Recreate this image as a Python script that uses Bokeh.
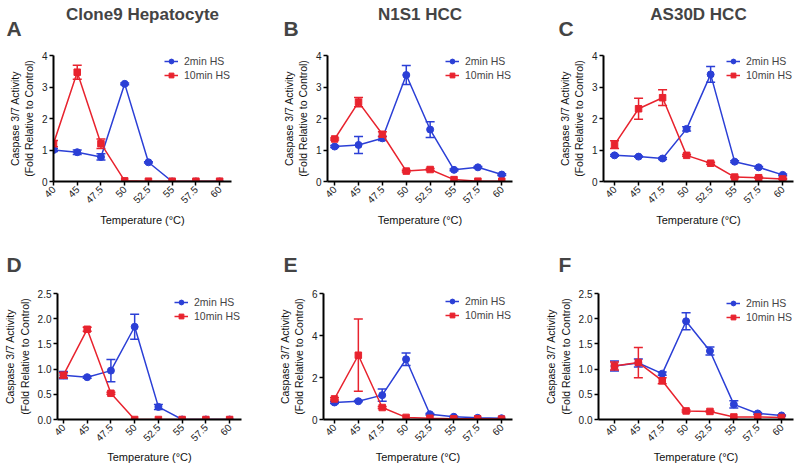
from bokeh.plotting import figure
from bokeh.layouts import column, row
from bokeh.models import (ColumnDataSource, FixedTicker, Whisker, TeeHead, Legend,
                          LegendItem, Title, Range1d)
from bokeh.embed import file_html
from bokeh.resources import INLINE

FONT = "Liberation Sans"
BLUE = "#2b3fd6"
RED = "#e8232e"

temps = ["40", "45", "47.5", "50", "52.5", "55", "57.5", "60"]
series_names = ["2min HS", "10min HS"]
y_title = "Caspase 3/7 Activity\n(Fold Relative to Control)"
x_title = "Temperature (\u00b0C)"

# Panel A: Clone9 Hepatocyte
a_2min = [1.00, 0.93, 0.78, 3.10, 0.61, 0.0, 0.0, 0.0]
a_2min_err = [0.05, 0.07, 0.10, 0.03, 0.02, 0.0, 0.0, 0.0]
a_10min = [1.20, 3.47, 1.20, 0.02, 0.01, 0.01, 0.01, 0.01]
a_10min_err = [0.10, 0.22, 0.15, 0.0, 0.0, 0.0, 0.0, 0.0]

# Panel B: N1S1 HCC
b_2min = [1.11, 1.16, 1.37, 3.38, 1.65, 0.37, 0.45, 0.22]
b_2min_err = [0.03, 0.27, 0.07, 0.30, 0.25, 0.03, 0.03, 0.03]
b_10min = [1.35, 2.52, 1.50, 0.33, 0.38, 0.06, 0.01, 0.01]
b_10min_err = [0.03, 0.15, 0.08, 0.03, 0.03, 0.0, 0.0, 0.0]

# Panel C: AS30D HCC
c_2min = [0.83, 0.79, 0.73, 1.67, 3.40, 0.63, 0.45, 0.21]
c_2min_err = [0.03, 0.02, 0.03, 0.07, 0.25, 0.03, 0.03, 0.03]
c_10min = [1.17, 2.31, 2.66, 0.83, 0.58, 0.14, 0.12, 0.08]
c_10min_err = [0.12, 0.33, 0.25, 0.03, 0.03, 0.02, 0.02, 0.02]

# Panel D: Clone9 Hepatocyte (row 2)
d_2min = [0.88, 0.84, 0.97, 1.84, 0.25, 0.0, 0.0, 0.0]
d_2min_err = [0.07, 0.02, 0.22, 0.25, 0.05, 0.0, 0.0, 0.0]
d_10min = [0.88, 1.79, 0.52, 0.0, 0.0, 0.0, 0.0, 0.0]
d_10min_err = [0.05, 0.04, 0.02, 0.0, 0.0, 0.0, 0.0, 0.0]

# Panel E: N1S1 HCC (row 2)
e_2min = [0.81, 0.87, 1.16, 2.87, 0.25, 0.13, 0.08, 0.06]
e_2min_err = [0.05, 0.03, 0.29, 0.30, 0.03, 0.02, 0.0, 0.0]
e_10min = [0.98, 3.06, 0.57, 0.10, 0.06, 0.03, 0.03, 0.02]
e_10min_err = [0.05, 1.72, 0.05, 0.0, 0.0, 0.0, 0.0, 0.0]

# Panel F: AS30D HCC (row 2)
f_2min = [1.06, 1.12, 0.91, 1.95, 1.36, 0.30, 0.12, 0.08]
f_2min_err = [0.10, 0.08, 0.03, 0.17, 0.08, 0.07, 0.02, 0.01]
f_10min = [1.06, 1.13, 0.77, 0.17, 0.16, 0.05, 0.05, 0.04]
f_10min_err = [0.08, 0.30, 0.06, 0.02, 0.01, 0.0, 0.0, 0.0]

ticks_4 = [0, 1, 2, 3, 4]
labels_4 = ["0", "1", "2", "3", "4"]
ticks_25 = [0, 0.5, 1.0, 1.5, 2.0, 2.5]
labels_25 = ["0.0", "0.5", "1.0", "1.5", "2.0", "2.5"]
ticks_6 = [0, 2, 4, 6]
labels_6 = ["0", "2", "4", "6"]


def panel(title, letter, blue, blue_err, red, red_err, yticks, ylabels,
          x0, x1, w, h, bl, br, bt, bb, letter_dx, spacer, letter_standoff,
          leg_x, leg_y, x_standoff):
    p = figure(width=w, height=h, output_backend="svg", toolbar_location=None,
               x_range=Range1d(x0, x1), y_range=Range1d(0, yticks[-1]),
               min_border_left=bl, min_border_right=br,
               min_border_top=bt, min_border_bottom=bb)
    p.outline_line_color = None
    p.grid.visible = False
    p.background_fill_color = "white"
    p.border_fill_color = "white"

    xs = list(range(len(temps)))
    renderers = []
    for vals, errs, color, marker, size in [(blue, blue_err, BLUE, "circle", 7),
                                            (red, red_err, RED, "square", 6.5)]:
        src = ColumnDataSource(dict(x=xs, y=vals))
        ex = [x for x, e in zip(xs, errs) if e > 0]
        lo = [v - e for v, e in zip(vals, errs) if e > 0]
        hi = [v + e for v, e in zip(vals, errs) if e > 0]
        wsrc = ColumnDataSource(dict(x=ex, lo=lo, hi=hi))
        wk = Whisker(source=wsrc, base="x", lower="lo", upper="hi",
                     line_color=color, line_width=1.5,
                     upper_head=TeeHead(size=9, line_color=color, line_width=1.5),
                     lower_head=TeeHead(size=9, line_color=color, line_width=1.5))
        p.add_layout(wk)
        ln = p.line("x", "y", source=src, line_color=color, line_width=1.5)
        sc = p.scatter("x", "y", source=src, marker=marker, size=size,
                       fill_color=color, line_color=color)
        renderers.append([ln, sc])

    legend = Legend(items=[LegendItem(label=series_names[0], renderers=renderers[0]),
                           LegendItem(label=series_names[1], renderers=renderers[1])],
                    location=(leg_x, leg_y), border_line_alpha=0,
                    background_fill_alpha=0, padding=0, margin=0, spacing=2,
                    glyph_width=14, glyph_height=12, label_standoff=6,
                    label_text_font_size="10.5px", label_text_font=FONT,
                    label_height=12)
    p.add_layout(legend)

    # axes
    p.xaxis.ticker = FixedTicker(ticks=xs)
    p.xaxis.major_label_overrides = {i: t for i, t in enumerate(temps)}
    p.xaxis.major_label_orientation = 0.785398
    p.yaxis.ticker = FixedTicker(ticks=yticks)
    p.yaxis.major_label_overrides = {t: l for t, l in zip(yticks, ylabels)}
    for ax in (p.xaxis[0], p.yaxis[0]):
        ax.axis_line_width = 2
        ax.axis_line_color = "black"
        ax.major_tick_line_width = 1.5
        ax.major_tick_line_color = "black"
        ax.major_tick_out = 4
        ax.major_tick_in = 0
        ax.minor_tick_line_color = None
        ax.major_label_text_font = FONT
        ax.major_label_text_font_size = "10px"
        ax.major_label_text_color = "#222222"
        ax.axis_label_text_font = FONT
        ax.axis_label_text_font_style = "normal"
        ax.axis_label_text_font_size = "10.5px"
        ax.axis_label_text_color = "#111111"
        ax.major_label_standoff = 2
    p.xaxis.axis_label = x_title
    p.xaxis.axis_label_standoff = x_standoff
    p.xaxis.axis_label_text_font_size = "11px"
    p.yaxis.axis_label = y_title
    p.yaxis.axis_label_standoff = 4

    # blank spacer between the frame and the panel letter
    p.add_layout(Title(text=" ", text_color="white", text_font_size="1px",
                       standoff=spacer), "above")
    p.add_layout(Title(text=letter, align="left", offset=letter_dx,
                       text_font=FONT, text_font_style="bold",
                       text_font_size="21px", standoff=letter_standoff), "above")
    if title:
        p.add_layout(Title(text=title, align="center",
                           text_font=FONT, text_font_style="bold",
                           text_font_size="17px", standoff=0), "above")
    return p


H1, H2 = 240, 228
pa = panel("Clone9 Hepatocyte", "A", a_2min, a_2min_err, a_10min, a_10min_err,
           ticks_4, labels_4, 0, 7.5, 266, H1, 53, 35, 55, 59, -47, 21, -17, 111, 100, 4)
pb = panel("N1S1 HCC", "B", b_2min, b_2min_err, b_10min, b_10min_err,
           ticks_4, labels_4, -0.3, 7.45, 274, H1, 61, 28, 55, 59, -44, 21, -17, 118, 100, 4)
pc = panel("AS30D HCC", "C", c_2min, c_2min_err, c_10min, c_10min_err,
           ticks_4, labels_4, -0.46, 7.45, 260, H1, 63, 7, 55, 59, -45, 21, -17, 123, 100, 4)
pd_ = panel(None, "D", d_2min, d_2min_err, d_10min, d_10min_err,
            ticks_25, labels_25, -0.25, 7.5, 266, H2, 57, 25, 53, 49, -51, 15, 0, 117, 97, 3)
pe = panel(None, "E", e_2min, e_2min_err, e_10min, e_10min_err,
           ticks_6, labels_6, -0.46, 7.46, 274, H2, 57, 28, 53, 49, -40, 15, 0, 122, 98, 3)
pf = panel(None, "F", f_2min, f_2min_err, f_10min, f_10min_err,
           ticks_25, labels_25, -0.67, 7.5, 260, H2, 58, 7, 53, 49, -40, 15, 0, 128, 96, 3)

layout = column(row(pa, pb, pc), row(pd_, pe, pf))
open("out.html", "w").write(file_html(layout, INLINE))
